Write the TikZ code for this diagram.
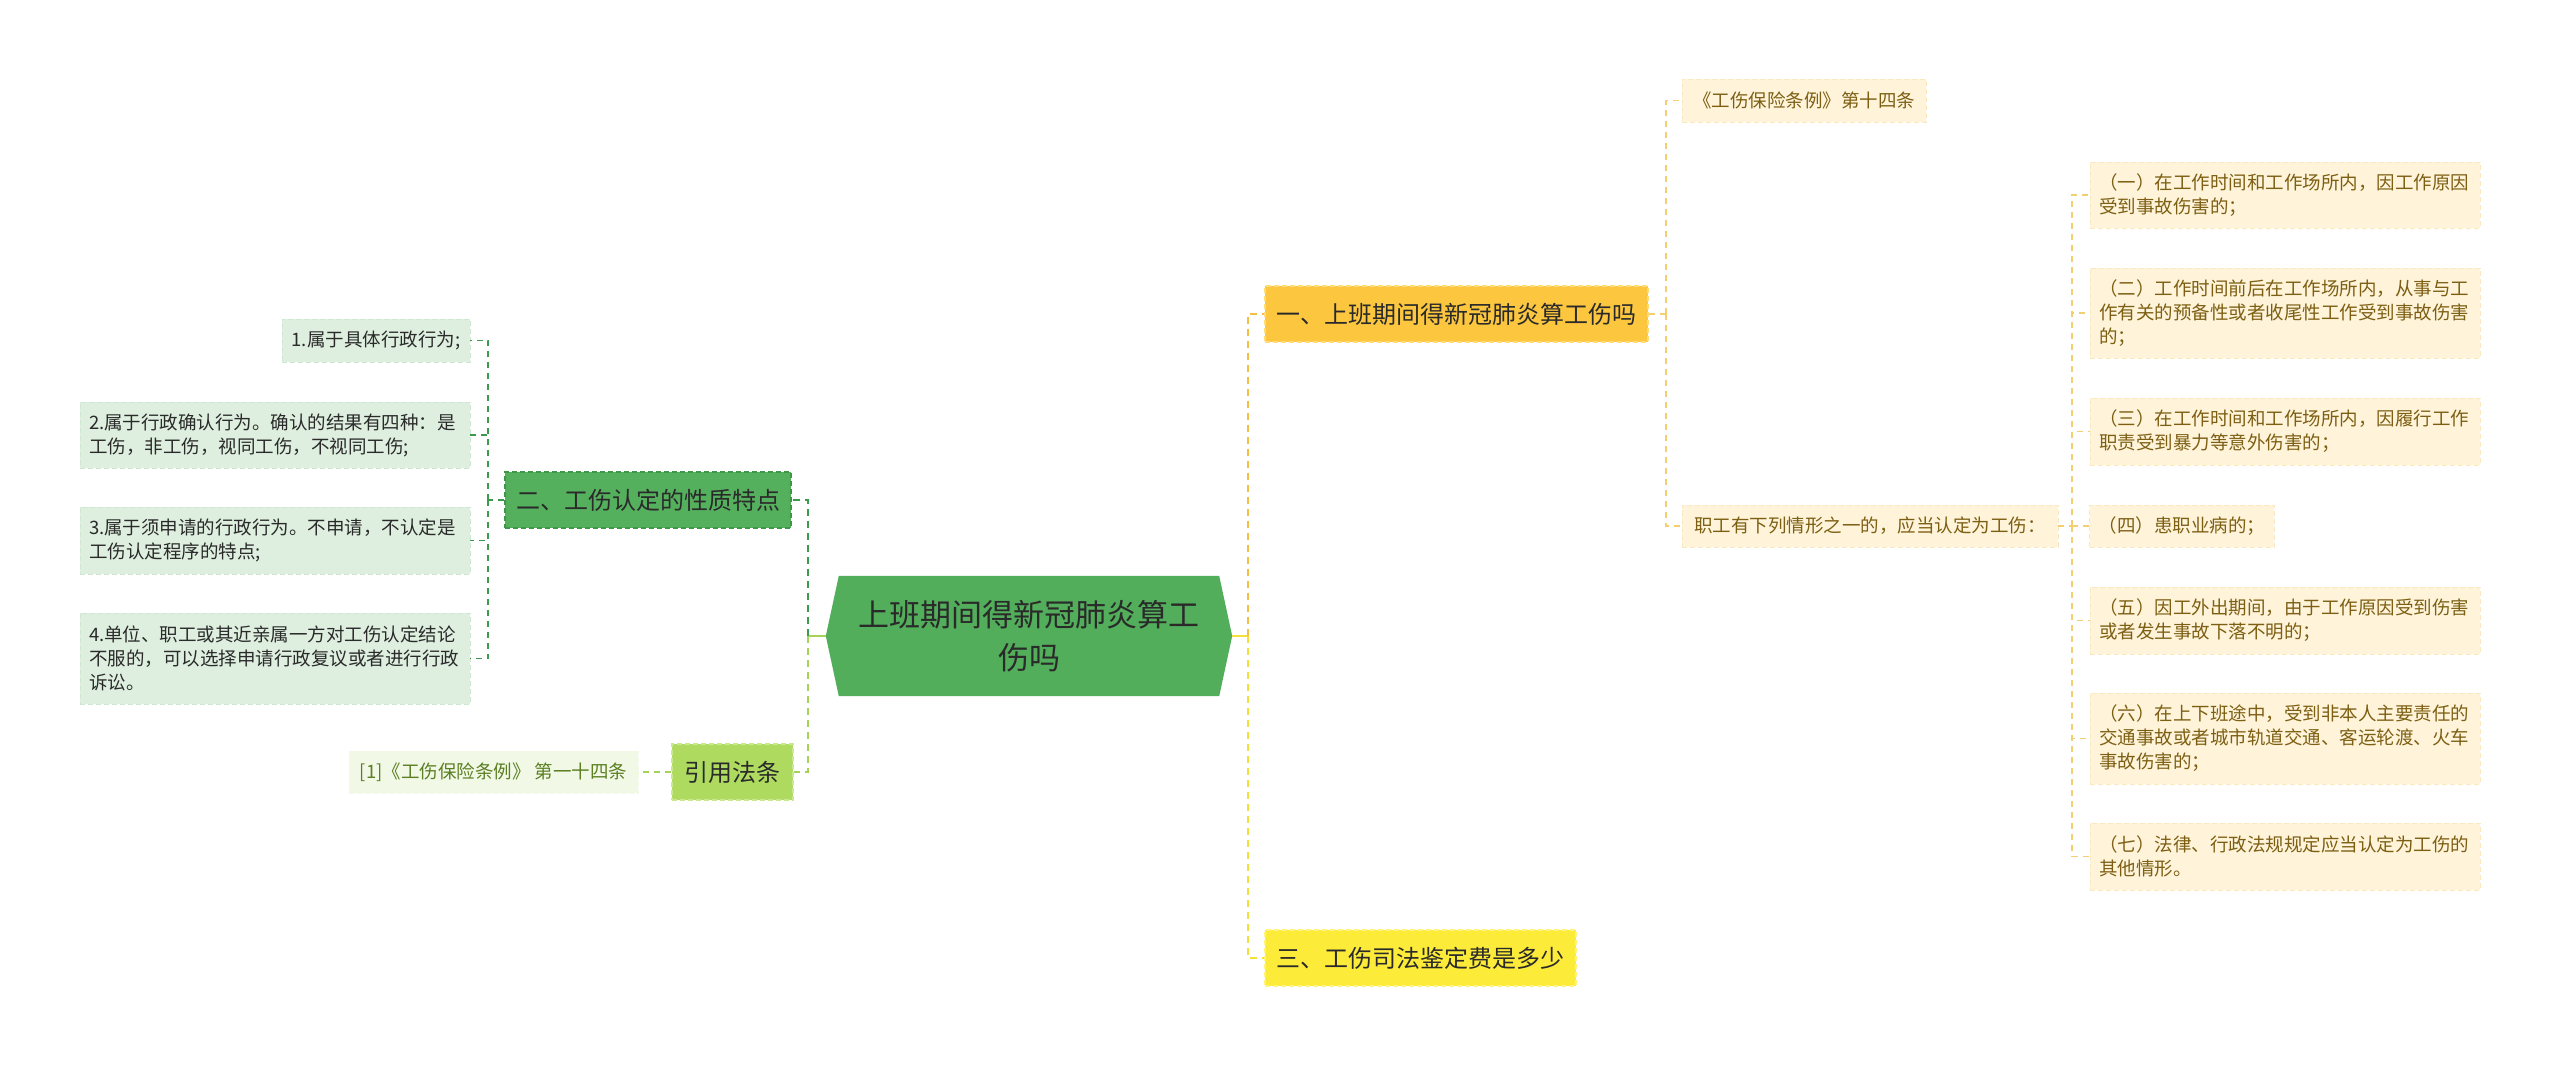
\documentclass[tikz,border=0pt]{standalone}
\usepackage{fontspec}
\setmainfont{Noto Sans CJK SC}
\usetikzlibrary{backgrounds,calc}
\definecolor{hexg}{HTML}{52AE5A}
\definecolor{txtdark}{HTML}{2A2A2A}
\definecolor{bgreen}{HTML}{55B05E}
\definecolor{bgreenln}{HTML}{3E9647}
\definecolor{leafg}{HTML}{DEEFDF}
\definecolor{leafgln}{HTML}{CFE6D0}
\definecolor{limeb}{HTML}{AEDB5F}
\definecolor{limeln}{HTML}{C9E88F}
\definecolor{limeleaf}{HTML}{F1F8E6}
\definecolor{limetxt}{HTML}{5B7F22}
\definecolor{goldb}{HTML}{FCC73E}
\definecolor{goldln}{HTML}{FFDB7A}
\definecolor{yelb}{HTML}{FDEB3A}
\definecolor{yelln}{HTML}{FFF27F}
\definecolor{cream}{HTML}{FFF4D9}
\definecolor{creamln}{HTML}{F8E9C2}
\definecolor{creamtxt}{HTML}{7D5F14}
\definecolor{dgreen}{HTML}{3C9A4F}
\definecolor{lgreen}{HTML}{A5D356}
\definecolor{orng}{HTML}{F5BE45}
\definecolor{lorng}{HTML}{F3CF72}
\definecolor{yel}{HTML}{F3E13A}
\begin{document}
\begin{tikzpicture}[x=1pt,y=-1pt,
  mainbox/.style={draw, line width=1.2, dash pattern=on 5pt off 3pt, inner sep=0,
    font=\fontsize{24}{30}\selectfont, text=txtdark, minimum height=56},
  leafbox/.style={draw, line width=0.8, dash pattern=on 5pt off 3pt, inner xsep=9, inner ysep=0,
    font=\fontsize{18.5}{24}\selectfont, align=left},
  leafL/.style={leafbox, fill=leafg, draw=leafgln, text=txtdark},
  leafR/.style={leafbox, fill=cream, draw=creamln, text=creamtxt},
  leafC/.style={leafbox, fill=limeleaf, draw=limeleaf, text=limetxt},
  conn/.style={line width=2, dash pattern=on 7pt off 5pt},
  subconn/.style={line width=1.4, dash pattern=on 6pt off 5pt}
]
\useasboundingbox (0,0) rectangle (2560,1066);

% central node
\node[font=\fontsize{31}{43}\selectfont, align=center, minimum width=406, minimum height=120,
  inner sep=0, text=txtdark] (ctr) at (1029,636) {上班期间得新冠肺炎算工\\伤吗};
\begin{scope}[on background layer]
\fill[white] (0,0) rectangle (2560,1066);
\fill[hexg] (ctr.west) -- ($(ctr.north west)+(13,0)$) -- ($(ctr.north east)+(-13,0)$)
  -- (ctr.east) -- ($(ctr.south east)+(-13,0)$) -- ($(ctr.south west)+(13,0)$) -- cycle;
\end{scope}

% left side
\node[mainbox, fill=bgreen, draw=bgreenln, minimum width=286] (b2) at (648,500) {二、工伤认定的性质特点};
\node[mainbox, fill=limeb, draw=limeln, minimum width=121] (b4) at (732.5,772) {引用法条};

\node[leafL, minimum width=188, minimum height=43] (l1) at (376,340.5) {1.属于具体行政行为;};
\node[leafL, text width=372, minimum height=66] (l2) at (275,435) {2.属于行政确认行为。确认的结果有四种：是\\工伤，非工伤，视同工伤，不视同工伤;};
\node[leafL, text width=372, minimum height=67] (l3) at (275,540.5) {3.属于须申请的行政行为。不申请，不认定是\\工伤认定程序的特点;};
\node[leafL, text width=372, minimum height=91] (l4) at (275,658.5) {4.单位、职工或其近亲属一方对工伤认定结论\\不服的，可以选择申请行政复议或者进行行政\\诉讼。};

\node[leafC, minimum width=289, minimum height=42] (c1) at (493.5,772) {[1]《工伤保险条例》 第一十四条};

% right side
\node[mainbox, fill=goldb, draw=goldln, minimum width=383] (b1) at (1456.5,314) {一、上班期间得新冠肺炎算工伤吗};
\node[mainbox, fill=yelb, draw=yelln, minimum width=311] (b3) at (1420.5,958) {三、工伤司法鉴定费是多少};

\node[leafR, minimum width=244, minimum height=43] (r0) at (1804,100.5) {《工伤保险条例》第十四条};
\node[leafR, minimum width=376, minimum height=42] (r1) at (1870,526) {职工有下列情形之一的，应当认定为工伤：};

\node[leafR, text width=372, minimum height=66] (s1) at (2285,195) {（一）在工作时间和工作场所内，因工作原因\\受到事故伤害的；};
\node[leafR, text width=372, minimum height=90] (s2) at (2285,313) {（二）工作时间前后在工作场所内，从事与工\\作有关的预备性或者收尾性工作受到事故伤害\\的；};
\node[leafR, text width=372, minimum height=67] (s3) at (2285,431.5) {（三）在工作时间和工作场所内，因履行工作\\职责受到暴力等意外伤害的；};
\node[leafR, minimum width=184, minimum height=42] (s4) at (2182,526) {（四）患职业病的；};
\node[leafR, text width=372, minimum height=67] (s5) at (2285,620.5) {（五）因工外出期间，由于工作原因受到伤害\\或者发生事故下落不明的；};
\node[leafR, text width=372, minimum height=91] (s6) at (2285,738.5) {（六）在上下班途中，受到非本人主要责任的\\交通事故或者城市轨道交通、客运轮渡、火车\\事故伤害的；};
\node[leafR, text width=372, minimum height=67] (s7) at (2285,856.5) {（七）法律、行政法规规定应当认定为工伤的\\其他情形。};

% connectors left
\coordinate (jL) at (808,636);
\draw[line width=2, lgreen] (ctr.west) -- (jL);
\draw[conn, dgreen] (jL) |- (b2.east);
\draw[conn, lgreen] (jL) |- (b4.east);
\coordinate (jL2) at (488,500);
\draw[subconn, dgreen] (b2.west) -- (jL2);
\draw[subconn, dgreen] (jL2) |- (l1.east);
\draw[subconn, dgreen] (jL2) |- (l2.east);
\draw[subconn, dgreen] (jL2) |- (l3.east);
\draw[subconn, dgreen] (jL2) |- (l4.east);
\draw[subconn, lgreen] (b4.west) -- (c1.east);

% connectors right
\coordinate (jR) at (1248,636);
\draw[line width=2, yel] (ctr.east) -- (jR);
\draw[conn, orng] (jR) |- (b1.west);
\draw[conn, yel] (jR) |- (b3.west);
\coordinate (jR2) at (1666,314);
\draw[subconn, lorng] (b1.east) -- (jR2);
\draw[subconn, lorng] (jR2) |- (r0.west);
\draw[subconn, lorng] (jR2) |- (r1.west);
\coordinate (jR3) at (2072,526);
\draw[subconn, lorng] (r1.east) -- (jR3);
\draw[subconn, lorng] (jR3) |- (s1.west);
\draw[subconn, lorng] (jR3) |- (s2.west);
\draw[subconn, lorng] (jR3) |- (s3.west);
\draw[subconn, lorng] (jR3) |- (s4.west);
\draw[subconn, lorng] (jR3) |- (s5.west);
\draw[subconn, lorng] (jR3) |- (s6.west);
\draw[subconn, lorng] (jR3) |- (s7.west);
\end{tikzpicture}
\end{document}
